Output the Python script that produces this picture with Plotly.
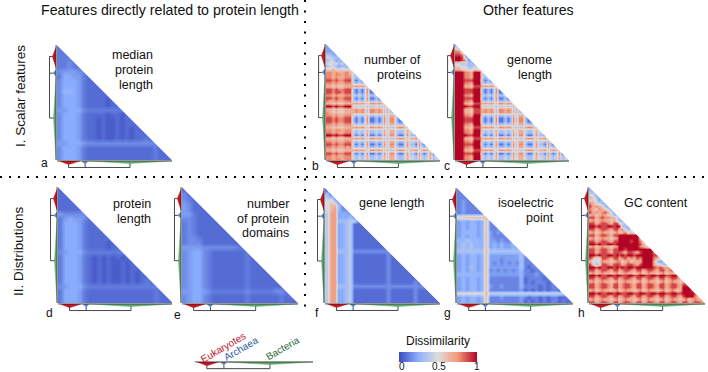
import plotly.graph_objects as go

W, H = 708, 372
FONT = "Liberation Sans"

# Lower-triangle dissimilarity, one string per row, each digit = value / digit scale.
# Only the first r + 1 digits of row r are the visible lower triangle.
MEDIAN_PROTEIN_LENGTH = ["3","33","333","3343","33433","455544","3665532","46665322","466653222","4776532222",
 "46665322222","466653222212","4666532222122","55666433333333","466653222212212","4666532212112122",
 "46665322121121222","466653221211212122","4666532212112121222","46665322121121212232",
 "556665444444444444444","4666532222222222222232","46665322222222222222322","466653222222222222223222"]
PROTEIN_LENGTH = ["2","22","222","2222","22222","544444","3565542","36665322","366653222","3666532222",
 "36665322222","366653222212","3666532222122","45666433333333","366653212121212","3666532121211212",
 "36665321212112122","366653212121121212","3666532121211212122","36665321212112121232",
 "456664333333333333333","3666532222222222222232","36665322222222222222322","366653222222222222223222"]
PROTEIN_DOMAINS = ["2","42","432","5422","54222","553222","4432222","34322222","343222222","3432222222",
 "34432222222","344422222222","5555444444433","45664322222223","456643222222232","4566432222222322",
 "45664322222223222","456643222222232222","4566432222222322222","45664322222223222222",
 "456643222222232222222","5566543333333433333443","45664322222223222222323","456643222222232222223222"]
NUMBER_OF_PROTEINS = ["2","22","222","3322","44332","344232","4544342","34432332","556455454","7767667764","77677677643",
 "7767667774343463343464664334644364346344",
 "8878778883131371131373773113733173137133",
 "7767667774343463343464664334644364346344",
 "6656556666767637767636336776366736763766",
 "8878778883131371131373773113733173137133",
 "8878878883131371131373773113733173137133",
 "7767667774343463343464664334644364346344",
 "8878778883131371131373773113733173137133",
 "7667667774343463343464664334644364346344",
 "6656556666767637767636336776366736763766",
 "9989889994343463343464664334644364346344",
 "6656556666767637767636336776366736763766",
 "7656556666767637767636336776366736763766",
 "7767667774343463343464664334644364346344",
 "8878778883131371131373773113733173137133",
 "8878778883131371131373773113733113137133",
 "7767667774343463343464664334644364346344",
 "6656556666767637767636336776366736763766",
 "7767767774343463343464664334644364346344",
 "7767667774343463343464664334644364346344",
 "9989889993131371131373773113733173137133",
 "6656556666767637767636336776366736763766",
 "7767667774343463343464664334644364346344",
 "8878778883131371131373773113733173137133",
 "7767667674343463343464664334644364346344",
 "6656556666767637767636336776366736763766",
 "8878778883131371131373773113733173137133",
 "7767667774343463343464664334644364346344",
 "7767767774343463343464664334644364346344"]
GENOME_LENGTH = ["2","52","772","8872","99832","998722","4434332","55443343","665544554","9997769994","99977699943",
 "9997769994343463343464664334644364346344",
 "9998889993131371131373773113733173137133",
 "9997769994343463343464664334644364346344",
 "9996658886767637767636336776366736763766",
 "9998889993131371131373773113733173137133",
 "9998889993131371131373773113733173137133",
 "9997769994343463343464664334644364346344",
 "9998889993131371131373773113733173137133",
 "9997769994343463343464664334644364346344",
 "9996658886767637767636336776366736763766",
 "9999889994343463343464664334644364346344",
 "9996658886767637767636336776366736763766",
 "9996658886767637767636336776366736763766",
 "9997769994343463343464664334644364346344",
 "9998889993131371131373773113733173137133",
 "9998889993131371131373773113733113137133",
 "9997769994343463343464664334644364346344",
 "9996658886767637767636336776366736763766",
 "9997769994343463343464664334644364346344",
 "9997769994343463343464664334644364346344",
 "9999889993131371131373773113733173137133",
 "9996658886767637767636336776366736763766",
 "9997769994343463343464664334644364346344",
 "9998889993131371131373773113733173137133",
 "9997769994343463343464664334644364346344",
 "9996658886767637767636336776366736763766",
 "9998889993131371131373773113733173137133",
 "9997769994343463343464664334644364346344",
 "9997769994343463343464664334644364346344"]
GENE_LENGTH = ["1","41","552","6742","68842","689422","5993332","59933342","599444552","5993345111",
 "59933451111","599334511111","5993345111111","59933451111111","599334511111111","5993345111111111",
 "59944452222222222","599334511111111121","5993345111111111211","59933451111111112111",
 "599334511111111121111","5993345111111111211111","59933451111111112111111","599334511111111121111111",
 "5993345111111111211111121","59944452222222222222222222","599334511111111121111112111",
 "5993345111111111211111121111","59933451111111112111111211111","599334511111111121111112111111"]
ISOELECTRIC_POINT = ["2","22","222","2322","23222","232222","2322222","88999999","343443492","3434434922",
 "34344349222","344443493232","3434434932222","44544449332322","454544493434334","4545444934343343",
 "55555559555555555","343443493333333352","3434434933323333522","34344349323232325222",
 "343543493333333352122","3434434923232323422122","44444449333333334222322","343443492222222241222212",
 "3434434922222222412122212","34344349322322224222212122","343443492222222231212121221",
 "7777777966666666666666666666","34344349222322223212212122112","343443492222222231212121221212"]
GC_CONTENT = ["2","32","442","6532","55423","764432","8676532","76576542","867678642","6756765533",
 "88678776643","675676656432","8867887688543","99898899899332","886788768867434","6756766567567454",
 "88678876889999999","675676656799999996","8867887688999989975","99898899899999999864",
 "675676656799999997653","8867887688998999999999","88678876888768876899997","998988998989899899999988",
 "8644887688678676879999765","64457665677567566699996323","853488768886788768999965432",
 "9989889989898998999999878767",
 "88678876886788768867887688678","675676656756766567567665675665",
 "9989889989988998899889989988998","88678876886788768867887688678876",
 "675676656756766567567665675676656","8867887688678876886788768867887688",
 "88678876886788768867887688678876999","675676656756766567567665675676569998",
 "99898899899889988998899899889988999987","88678876886788768867887688678876899976",
 "675676656756766567567665675676656756766","8867887688678876886788768867887688678876"]

# digit -> dissimilarity
SCALE_A, SCALE_B, SCALE_C = 0.04, 1 / 9, 1 / 9
SCALE_D, SCALE_E, SCALE_F = 0.04, 0.04, 0.08
SCALE_G, SCALE_H = 0.07, 1 / 9

PANEL_LETTERS = ["a", "b", "c", "d", "e", "f", "g", "h"]
PANEL_ROWS = [MEDIAN_PROTEIN_LENGTH, NUMBER_OF_PROTEINS, GENOME_LENGTH, PROTEIN_LENGTH,
              PROTEIN_DOMAINS, GENE_LENGTH, ISOELECTRIC_POINT, GC_CONTENT]
PANEL_SCALES = [SCALE_A, SCALE_B, SCALE_C, SCALE_D, SCALE_E, SCALE_F, SCALE_G, SCALE_H]
PANEL_LEFT = [57, 326, 455, 58, 182, 325, 457, 589]
PANEL_RIGHT = [172, 440, 569, 173, 298, 440, 573, 705]
PANEL_TOP = [45, 44, 44, 187, 187, 188, 188, 187]
PANEL_BOTTOM = [160, 160, 160, 303, 303, 303, 303, 303]
LETTER_X = [44, 315, 447, 49, 177, 317, 447, 581]
LETTER_Y = [163, 166, 166, 313, 315, 313, 313, 313]

# Dendrogram (fractions of the matrix side)
CLADES = ["Eukaryotes", "Archaea", "Bacteria"]
CLADE_COLORS = ["#c4141f", "#5f86c0", "#62ab70"]
CLADE_START = [0.02, 0.215, 0.27]
CLADE_END = [0.20, 0.27, 1.0]
CLADE_TIP = [0.10, 0.245, 0.635]
CLADE_DEPTH = [0.032, 0.028, 0.022]
BRACKET_LEVEL = 0.065
TREE_GAP = 0.008

COLORSCALE = [[0, "#3b4cc0"], [0.25, "#8db0fe"], [0.5, "#dddddd"], [0.75, "#f4987a"], [1, "#b40426"]]
COLOR_TICKS = [0, 0.5, 1]
COLOR_TICK_TEXT = ["0", "0.5", "1"]
COLOR_TICK_X = [402, 439, 477]

HEADERS = [("Features directly related to protein length", 170, 10), ("Other features", 528, 10)]
SIDE_LABELS = [("I. Scalar features", 20, 96), ("II. Distributions", 19, 251)]
PANEL_TEXT = [
    ("median", 155, 55), ("protein", 155, 70), ("length", 155, 85),
    ("number of", 423, 60), ("proteins", 423, 75),
    ("genome", 554, 60), ("length", 554, 75),
    ("protein", 153, 204), ("length", 153, 219),
    ("number", 291, 204), ("of protein", 291, 219), ("domains", 291, 233),
    ("gene length", 426, 203),
    ("isoelectric", 556, 203), ("point", 556, 218),
    ("GC content", 690, 203),
]
LEGEND_TEXT = [("Eukaryotes", 223, 347, "#c0202a"), ("Archaea", 241, 348, "#2a5ca8"), ("Bacteria", 282, 348, "#2e6b3a")]


def matrix(rows, scale):
    n = len(rows)
    m = [[0.0] * n for _ in range(n)]
    for r, row in enumerate(rows):
        for c in range(r + 1):
            v = int(row[min(c, len(row) - 1)]) * scale
            m[r][c] = v
            m[c][r] = v
    return m


def px(x):
    return x / W


def py(y):
    return 1 - y / H


fig = go.Figure()
layout_axes = {}


def add_axes(i, left, right, top, bottom, lpad, bpad):
    size = right - left
    suffix = "" if i == 1 else str(i)
    layout_axes["xaxis" + suffix] = dict(domain=[px(left - lpad), px(right + 1)], range=[-lpad / size, 1 + 1 / size],
                                         visible=False, fixedrange=True)
    layout_axes["yaxis" + suffix] = dict(domain=[py(bottom + bpad), py(top - 1)],
                                         range=[1 + bpad / (bottom - top), -1 / (bottom - top)],
                                         visible=False, fixedrange=True)
    return "x" + suffix, "y" + suffix


def line(xa, ya, xs, ys, color="#222222", width=1):
    fig.add_trace(go.Scatter(x=xs, y=ys, xaxis=xa, yaxis=ya, mode="lines", showlegend=False, hoverinfo="skip",
                             line=dict(color=color, width=width)))


def wedge(xa, ya, xs, ys, color):
    fig.add_trace(go.Scatter(x=xs, y=ys, xaxis=xa, yaxis=ya, mode="lines", fill="toself", fillcolor=color,
                             line=dict(color=color, width=0.5), showlegend=False, hoverinfo="skip"))


def bottom_tree(xa, ya):
    for s, e, t, d, col in zip(CLADE_START, CLADE_END, CLADE_TIP, CLADE_DEPTH, CLADE_COLORS):
        wedge(xa, ya, [s, t, e], [1 + TREE_GAP, 1 + TREE_GAP + d, 1 + TREE_GAP], col)
    line(xa, ya, [0, 1.0], [1 + TREE_GAP, 1 + TREE_GAP], "#222222", 0.8)
    lvl = 1 + BRACKET_LEVEL
    line(xa, ya, [CLADE_TIP[0], CLADE_TIP[0], CLADE_TIP[2], CLADE_TIP[2]],
         [1 + TREE_GAP + CLADE_DEPTH[0], lvl, lvl, 1 + TREE_GAP + CLADE_DEPTH[2]], "#333333", 0.9)
    line(xa, ya, [CLADE_TIP[1], CLADE_TIP[1]], [1 + TREE_GAP + CLADE_DEPTH[1], lvl], "#333333", 0.9)


def left_tree(xa, ya):
    for s, e, t, d, col in zip(CLADE_START, CLADE_END, CLADE_TIP, CLADE_DEPTH, CLADE_COLORS):
        wedge(xa, ya, [-TREE_GAP, -TREE_GAP - d, -TREE_GAP], [s, t, e], col)
    line(xa, ya, [-TREE_GAP, -TREE_GAP], [0, 1.0], "#222222", 0.8)
    lvl = -BRACKET_LEVEL
    line(xa, ya, [-TREE_GAP - CLADE_DEPTH[0], lvl, lvl, -TREE_GAP - CLADE_DEPTH[2]],
         [CLADE_TIP[0], CLADE_TIP[0], CLADE_TIP[2], CLADE_TIP[2]], "#333333", 0.9)
    line(xa, ya, [-TREE_GAP - CLADE_DEPTH[1], lvl], [CLADE_TIP[1], CLADE_TIP[1]], "#333333", 0.9)


for i in range(8):
    l, r, t, b = PANEL_LEFT[i], PANEL_RIGHT[i], PANEL_TOP[i], PANEL_BOTTOM[i]
    xa, ya = add_axes(i + 1, l, r, t, b, 10, 9)
    rows = PANEL_ROWS[i]
    n = len(rows)
    centers = [(k + 0.5) / n for k in range(n)]
    fig.add_trace(go.Heatmap(x=centers, y=centers, z=matrix(rows, PANEL_SCALES[i]), xaxis=xa, yaxis=ya,
                             coloraxis="coloraxis", zsmooth="best", hoverinfo="skip"))
    # white out the mirrored half above the diagonal
    fig.add_trace(go.Scatter(x=[0, 1.02, 1.02, 0], y=[0, 1.02, -0.02, -0.02], xaxis=xa, yaxis=ya, mode="lines",
                             fill="toself", fillcolor="white", line=dict(color="white", width=0.5),
                             showlegend=False, hoverinfo="skip"))
    bottom_tree(xa, ya)
    left_tree(xa, ya)

# Legend tree
xa9, ya9 = add_axes(9, 195, 313, 361, 361 + 118, 0, 0)
layout_axes["yaxis9"]["domain"] = [py(372), py(355)]
layout_axes["yaxis9"]["range"] = [0 + (1 + 11 / 118), 1 - 6 / 118]
layout_axes["xaxis9"]["range"] = [0, 1]
layout_axes["xaxis9"]["domain"] = [px(195), px(313)]
bottom_tree(xa9, ya9)

annotations = []


def note(text, x, y, size=12.5, anchor="center", color="#111111", angle=0):
    annotations.append(dict(text=text, x=px(x), y=py(y), xref="paper", yref="paper", showarrow=False,
                            xanchor=anchor, yanchor="middle", textangle=angle,
                            font=dict(family=FONT, size=size, color=color)))


for txt, x, y in HEADERS:
    note(txt, x, y, 14.2)
for txt, x, y in SIDE_LABELS:
    note(txt, x, y, 13.5, angle=-90)
for txt, x, y in PANEL_TEXT:
    note(txt, x, y, 12.5, anchor="right")
for letter, x, y in zip(PANEL_LETTERS, LETTER_X, LETTER_Y):
    note(letter, x, y, 12)
for txt, x, y, col in LEGEND_TEXT:
    note(txt, x, y, 10, color=col, angle=-30)
note("Dissimilarity", 438, 341, 12)
for txt, x in zip(COLOR_TICK_TEXT, COLOR_TICK_X):
    note(txt, x, 366.5, 10)

shapes = [
    dict(type="line", xref="paper", yref="paper", x0=0, x1=1, y0=py(177), y1=py(177),
         line=dict(color="black", width=2, dash="2px,7px")),
    dict(type="line", xref="paper", yref="paper", x0=px(305), x1=px(305), y0=py(0), y1=py(313),
         line=dict(color="black", width=2, dash="2px,8.5px")),
]

fig.update_layout(
    width=W, height=H, margin=dict(l=0, r=0, t=0, b=0, autoexpand=False),
    paper_bgcolor="white", plot_bgcolor="white", showlegend=False,
    annotations=annotations, shapes=shapes,
    coloraxis=dict(cmin=0, cmax=1, colorscale=COLORSCALE, colorbar=dict(
        orientation="h", x=px(438), xanchor="center", y=py(352), yanchor="top",
        lenmode="pixels", len=78, thicknessmode="pixels", thickness=10, xpad=0, ypad=0,
        outlinewidth=0, ticks="", showticklabels=False, tickvals=COLOR_TICKS)),
    **layout_axes,
)
fig.write_html("out.html", config=dict(displayModeBar=False),
               post_script="document.body.style.margin='0';document.body.style.overflow='hidden';")
